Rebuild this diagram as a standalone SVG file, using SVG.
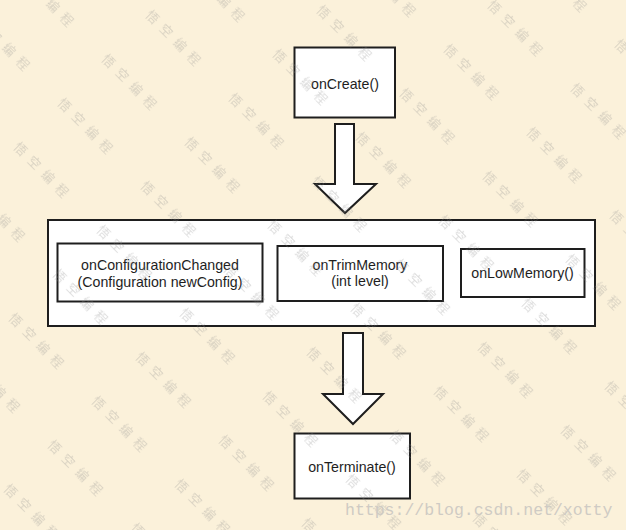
<svg xmlns="http://www.w3.org/2000/svg" width="626" height="530" viewBox="0 0 626 530">
  <defs>
    <style>
      .box { fill: #ffffff; stroke: #1e1e1e; stroke-width: 2; }
      .arrow { fill: #ffffff; stroke: #1e1e1e; stroke-width: 2; stroke-linejoin: miter; }
      .lbl { font-family: "Liberation Sans", "Noto Sans", sans-serif; font-size: 14.2px; fill: #1e1e1e; text-anchor: middle; }
      .wm { font-family: "Noto Sans CJK SC", sans-serif; font-size: 12.5px; letter-spacing: 7px; fill: #8a8a8a; }
      .url { font-family: "Liberation Mono", monospace; font-size: 16.5px; fill: #cfcbc4; }
    </style>
    <pattern id="wmPat" patternUnits="userSpaceOnUse" width="117.4" height="62.2" patternTransform="translate(125.6,35.2) rotate(45)">
      <text class="wm" x="0" y="35">悟空编程</text>
    </pattern>
  </defs>

  <rect x="0" y="0" width="626" height="530" fill="#fbf1da"/>

  <g id="container">
    <rect class="box" x="48" y="220" width="547" height="106"/>
  </g>

  <g id="onCreate">
    <rect class="box" x="294.5" y="47.5" width="100.5" height="70"/>
    <text class="lbl" x="345" y="89">onCreate()</text>
  </g>

  <g id="onConfigurationChanged">
    <rect class="box" x="57.5" y="243.5" width="205" height="58"/>
    <text class="lbl" x="160" y="270">onConfigurationChanged</text>
    <text class="lbl" x="160" y="286.5">(Configuration newConfig)</text>
  </g>

  <g id="onTrimMemory">
    <rect class="box" x="277.5" y="246" width="165.5" height="55"/>
    <text class="lbl" x="360" y="269.5">onTrimMemory</text>
    <text class="lbl" x="360" y="286">(int level)</text>
  </g>

  <g id="onLowMemory">
    <rect class="box" x="461" y="249" width="123.5" height="48"/>
    <text class="lbl" x="522.5" y="278">onLowMemory()</text>
  </g>

  <g id="onTerminate">
    <rect class="box" x="294.5" y="433.5" width="115.5" height="65"/>
    <text class="lbl" x="352" y="471.5">onTerminate()</text>
  </g>

  <g id="connectors">
    <polygon class="arrow" points="335,124 354,124 354,184 376,184 345,213 315,184 335,184"/>
    <polygon class="arrow" points="343,333 363,333 363,394 383,394 353,424 323,394 343,394"/>
  </g>

  <g id="watermark" pointer-events="none">
    <rect x="0" y="0" width="626" height="530" fill="url(#wmPat)" opacity="0.32"/>
    <text class="url" x="345" y="515">https://blog.csdn.net/xotty</text>
  </g>
</svg>
